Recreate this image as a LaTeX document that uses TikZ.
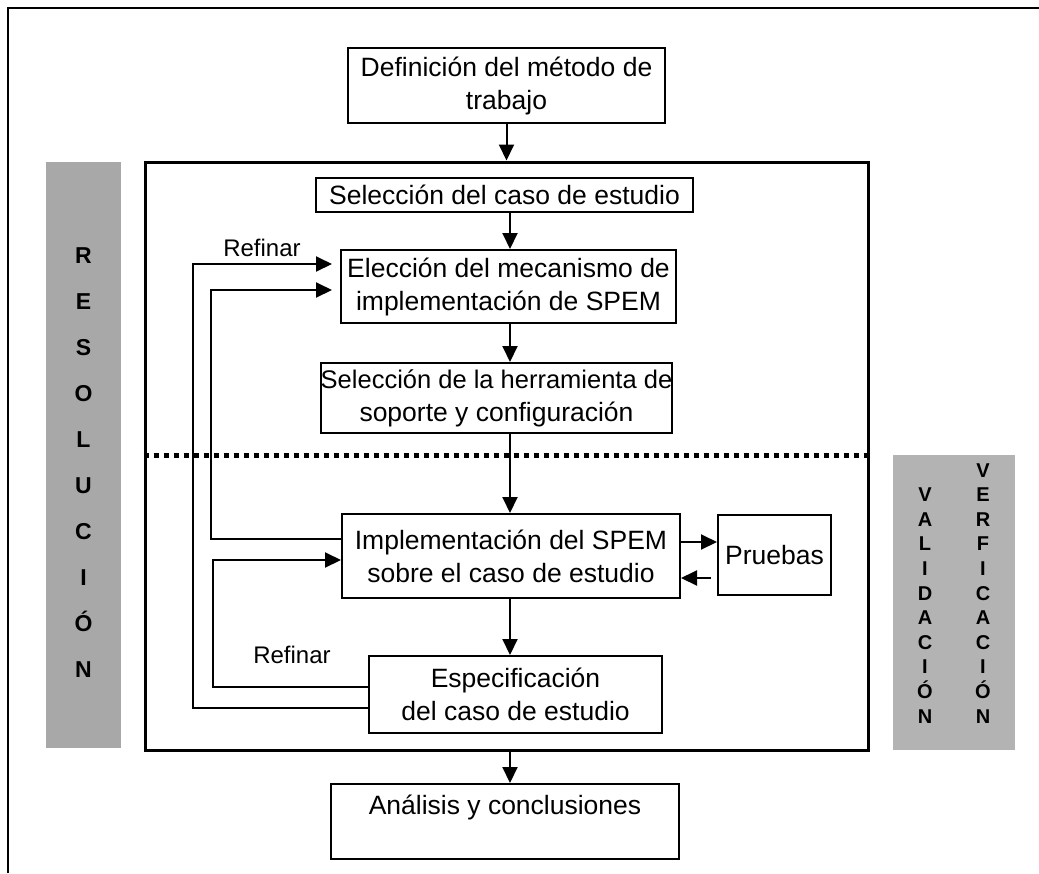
\documentclass[tikz,border=0pt]{standalone}
\usepackage{fontspec}
\setmainfont{Liberation Sans}
\usetikzlibrary{arrows.meta,calc}
\definecolor{lgray}{HTML}{A8A8A8}
\definecolor{rgray}{HTML}{B3B3B3}
\begin{document}
\begin{tikzpicture}[x=1pt,y=-1pt,
  bx/.style 2 args={draw, line width=2pt, minimum width=#1, minimum height=#2,
    inner sep=0pt, align=center, font=\fontsize{26.5}{33}\selectfont},
  arr/.style={line width=2pt, -{Triangle[length=16pt,width=15pt]}},
  lbl/.style={font=\fontsize{24}{28}\selectfont, inner sep=0pt},
  bigl/.style={font=\bfseries\fontsize{23}{27}\selectfont, inner sep=0pt, anchor=base},
  smalll/.style={font=\bfseries\fontsize{20}{23}\selectfont, inner sep=0pt, anchor=base}]
\useasboundingbox (0,0) rectangle (1039,873);
% outer frame
\draw[line width=1.5pt] (8,873) -- (8,8) -- (1039,8);
% gray bars
\node[fill=lgray, minimum width=75pt, minimum height=586pt, inner sep=0pt] (lbar) at (83.5,455) {};
\node[fill=rgray, minimum width=122pt, minimum height=295pt, inner sep=0pt] (rbar) at (954,602.5) {};
% big box
\node[draw, line width=3pt, minimum width=723pt, minimum height=588pt, inner sep=0pt] (big) at (506.5,456) {};
% dotted line
\coordinate (dl) at (0,455);
\draw[line width=5pt, dash pattern=on 5pt off 5pt] (big.west |- dl) -- (big.east |- dl);
% boxes
\node[bx={317pt}{75pt}] (def) at (506.5,85.5) {Definición del método de\\trabajo};
\node[bx={377pt}{34pt}] (sel) at (504.5,195) {Selección del caso de estudio};
\node[bx={335pt}{73pt}] (ele) at (508.5,286.5) {Elección del mecanismo de\\implementación de SPEM};
\node[bx={351pt}{70pt}] (her) at (496.5,398) {\fontsize{25.5}{33}\selectfont Selección de la herramienta de\\soporte y configuración};
\node[bx={338pt}{84pt}] (impl) at (511,556) {Implementación del SPEM\\sobre el caso de estudio};
\node[bx={113pt}{80pt}] (pru) at (774.5,555) {Pruebas};
\node[bx={293pt}{77pt}] (esp) at (515.5,694.5) {Especificación\\del caso de estudio};
\node[bx={348pt}{75pt}] (ana) at (505,821.5) {Análisis y conclusiones\\\mbox{}};
% vertical arrows
\coordinate (ax) at (510,0);
\draw[arr] (def.south) -- (big.north);
\draw[arr] (sel.south -| ax) -- (ele.north -| ax);
\draw[arr] (ele.south -| ax) -- (her.north -| ax);
\draw[arr] (her.south -| ax) -- (impl.north -| ax);
\draw[arr] (impl.south -| ax) -- (esp.north -| ax);
\draw[arr] (big.south -| ax) -- (ana.north -| ax);
% pruebas arrows
\coordinate (p1) at (0,542);
\coordinate (p2) at (0,578);
\draw[arr] (impl.east |- p1) -- (pru.west |- p1);
\draw[arr] ([xshift=-6pt]pru.west |- p2) -- (impl.east |- p2);
% feedback loops
\coordinate (a1) at (193,708);
\coordinate (a2) at (193,264);
\draw[arr, shorten >=8pt] (esp.west |- a1) -- (a1) -- (a2) -- (ele.west |- a2);
\coordinate (b1) at (211,539);
\coordinate (b2) at (211,290);
\draw[arr, shorten >=8pt] (impl.west |- b1) -- (b1) -- (b2) -- (ele.west |- b2);
\coordinate (c1) at (213,687);
\coordinate (c2) at (213,560);
\draw[arr] (esp.west |- c1) -- (c1) -- (c2) -- (impl.west |- c2);
% labels
\node[lbl] (r1) at (262,248) {Refinar};
\node[lbl] (r2) at (292,655) {Refinar};
% vertical words
\foreach \l [count=\i from 0] in {R,E,S,O,L,U,C,I,Ó,N}
  \node[bigl] (res\i) at (83.5,{255+46*\i+8}) {\l};
\foreach \l [count=\i from 1] in {V,A,L,I,D,A,C,I,Ó,N}
  \node[smalll] (val\i) at (925,{470+24.6*\i+7}) {\l};
\foreach \l [count=\i from 0] in {V,E,R,F,I,C,A,C,I,Ó,N}
  \node[smalll] (ver\i) at (983,{470+24.6*\i+7}) {\l};
\end{tikzpicture}
\end{document}
